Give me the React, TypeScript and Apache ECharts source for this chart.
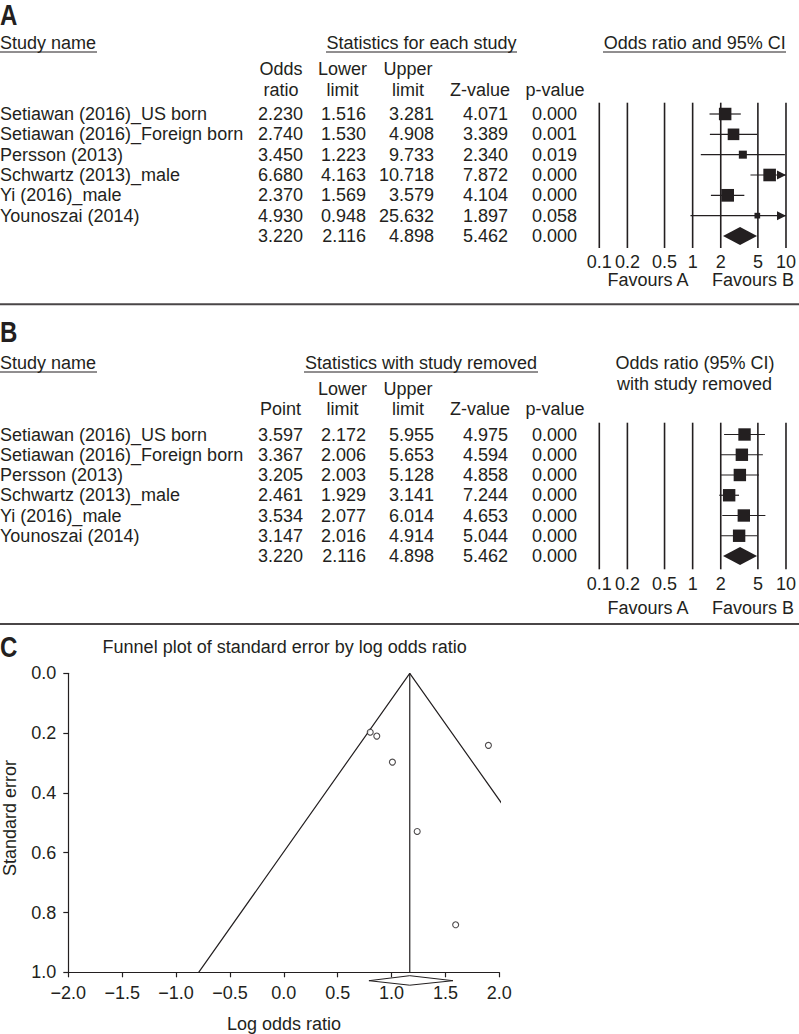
import React, { useEffect, useRef } from "react";
import * as echarts from "echarts";

// ---------- DATA ----------
const studies = [
  "Setiawan (2016)_US born",
  "Setiawan (2016)_Foreign born",
  "Persson (2013)",
  "Schwartz (2013)_male",
  "Yi (2016)_male",
  "Younoszai (2014)",
];

// Panel A: statistics for each study
const oddsA = [2.23, 2.74, 3.45, 6.68, 2.37, 4.93];
const lowerA = [1.516, 1.53, 1.223, 4.163, 1.569, 0.948];
const upperA = [3.281, 4.908, 9.733, 10.718, 3.579, 25.632];
const zA = [4.071, 3.389, 2.34, 7.872, 4.104, 1.897];
const pA = [0.0, 0.001, 0.019, 0.0, 0.0, 0.058];
const weightA = [19.9, 17.2, 8.2, 20.2, 20.6, 4.1];
const summaryA = [3.22, 2.116, 4.898, 5.462, 0.0];

// Panel B: statistics with study removed
const pointB = [3.597, 3.367, 3.205, 2.461, 3.534, 3.147];
const lowerB = [2.172, 2.006, 2.003, 1.929, 2.077, 2.016];
const upperB = [5.955, 5.653, 5.128, 3.141, 6.014, 4.914];
const zB = [4.975, 4.594, 4.858, 7.244, 4.653, 5.044];
const pB = [0.0, 0.0, 0.0, 0.0, 0.0, 0.0];
const summaryB = [3.22, 2.116, 4.898, 5.462, 0.0];

const forestTicks = [0.1, 0.2, 0.5, 1, 2, 5, 10];
const forestTickLabels = ["0.1", "0.2", "0.5", "1", "2", "5", "10"];

// Panel C: funnel plot
const logOR = [0.802, 1.008, 1.238, 1.899, 0.863, 1.595];
const stdErr = [0.197, 0.297, 0.529, 0.241, 0.21, 0.841];
const pooledLogOR = 1.169;
const funnelLimitsAtSE1 = [-0.79, 3.13];
const pooledDiamond = [0.79, 1.57];
const funnelXTicks = [-2, 2, 0.5]; // min, max, interval
const funnelYTicks = [0, 1, 0.2];

// ---------- STYLE / LAYOUT ----------
const INK = "#231f20";
const FONT = "'Liberation Sans', Arial, Helvetica, sans-serif";
const FS = 18;

const A_ROW0 = 114, A_SP = 20.33, A_TOP = 102.7, A_BOT = 248;
const B_ROW0 = 434.5, B_SP = 20.25, B_TOP = 422.7, B_BOT = 569.3;
const F_LEFT = 599.3, F_W = 190;
const COLS = [303, 366, 434, 508, 577]; // right edges of numeric columns
const HCOLS = [281, 342.5, 408, 480, 555]; // header centers

const fmt = (v: number) => v.toFixed(3);

function txt(text: string, x: number, y: number, align = "left", extra: any = {}) {
  const { style: extraStyle, ...rest } = extra;
  return {
    type: "text",
    x,
    y,
    silent: true,
    ...rest,
    style: {
      text,
      fill: INK,
      fontSize: FS,
      fontFamily: FONT,
      align,
      verticalAlign: "middle",
      ...(extraStyle || {}),
    },
  };
}
function hline(x1: number, x2: number, y: number, w = 1, color = INK) {
  return { type: "line", silent: true, shape: { x1, y1: y, x2, y2: y }, style: { stroke: color, lineWidth: w } };
}
function letter(ch: string, y: number) {
  return txt(ch, 0, y, "left", { scaleX: 0.83, style: { fontSize: 29, lineHeight: 28, fontWeight: "bold" } });
}

function tableRows(
  row0: number, sp: number,
  a: number[], b: number[], c: number[], d: number[], e: number[], summary: number[]
) {
  const els: any[] = [];
  studies.forEach((name, i) => {
    const y = row0 + i * sp;
    els.push(txt(name, 0, y));
    [a[i], b[i], c[i], d[i], e[i]].forEach((v, k) => els.push(txt(fmt(v), COLS[k], y, "right")));
  });
  const ys = row0 + 6 * sp;
  summary.forEach((v, k) => els.push(txt(fmt(v), COLS[k], ys, "right")));
  return els;
}

function buildGraphics() {
  const g: any[] = [];
  // Panel A
  g.push(letter("A", 15.5));
  g.push(txt("Study name", 0, 43));
  g.push(hline(0, 97, 52));
  g.push(txt("Statistics for each study", 421.5, 43, "center"));
  g.push(hline(326, 517, 52));
  g.push(txt("Odds ratio and 95% CI", 694.7, 43, "center"));
  g.push(hline(603, 786, 52));
  g.push(txt("Odds", HCOLS[0], 69, "center"));
  g.push(txt("Lower", HCOLS[1], 69, "center"));
  g.push(txt("Upper", HCOLS[2], 69, "center"));
  g.push(txt("ratio", HCOLS[0], 89.5, "center"));
  g.push(txt("limit", HCOLS[1], 89.5, "center"));
  g.push(txt("limit", HCOLS[2], 89.5, "center"));
  g.push(txt("Z-value", HCOLS[3], 89.5, "center"));
  g.push(txt("p-value", HCOLS[4], 89.5, "center"));
  g.push(...tableRows(A_ROW0, A_SP, oddsA, lowerA, upperA, zA, pA, summaryA));
  g.push(txt("Favours A", 648, 280, "center"));
  g.push(txt("Favours B", 753, 280, "center"));
  g.push(hline(0, 799, 304.3, 2, "#4a4647"));

  // Panel B
  g.push(letter("B", 332));
  g.push(txt("Study name", 0, 363));
  g.push(hline(0, 97, 372));
  g.push(txt("Statistics with study removed", 421, 363, "center"));
  g.push(hline(304, 538, 372));
  g.push(txt("Odds ratio (95% CI)", 695, 363, "center"));
  g.push(txt("with study removed", 694.5, 384, "center"));
  g.push(txt("Lower", HCOLS[1], 389, "center"));
  g.push(txt("Upper", HCOLS[2], 389, "center"));
  g.push(txt("Point", 280.5, 409, "center"));
  g.push(txt("limit", HCOLS[1], 409, "center"));
  g.push(txt("limit", HCOLS[2], 409, "center"));
  g.push(txt("Z-value", HCOLS[3], 409, "center"));
  g.push(txt("p-value", HCOLS[4], 409, "center"));
  g.push(...tableRows(B_ROW0, B_SP, pointB, lowerB, upperB, zB, pB, summaryB));
  g.push(txt("Favours A", 648, 608.3, "center"));
  g.push(txt("Favours B", 753, 608.3, "center"));
  g.push(hline(0, 799, 624, 2, "#4a4647"));

  // Panel C
  g.push(letter("C", 647));
  g.push(txt("Funnel plot of standard error by log odds ratio", 284.7, 647, "center"));
  g.push(txt("Log odds ratio", 284, 1024, "center"));
  g.push(txt("Standard error", 9.5, 818, "center", { rotation: Math.PI / 2, style: { lineHeight: 16 } }));
  return g;
}

function forestRender(boxSize: (w: number) => number) {
  return (params: any, api: any) => {
    const or = api.value(0), lo = api.value(1), hi = api.value(2), w = api.value(3), row = api.value(4), kind = api.value(5);
    const y = api.coord([1, row])[1];
    const xLo = api.coord([Math.max(lo, 0.1), row])[0];
    const xHi = api.coord([Math.min(hi, 10), row])[0];
    const xOr = api.coord([or, row])[0];
    if (kind === 1) {
      return {
        type: "polygon",
        shape: { points: [[xLo, y], [xOr, y - 9], [xHi, y], [xOr, y + 9]] },
        style: { fill: INK },
      };
    }
    const children: any[] = [
      { type: "line", shape: { x1: xLo, y1: y, x2: xHi, y2: y }, style: { stroke: INK, lineWidth: 1.2 } },
    ];
    if (hi > 10) {
      children.push({
        type: "polygon",
        shape: { points: [[xHi - 9, y - 4.5], [xHi, y], [xHi - 9, y + 4.5]] },
        style: { fill: INK },
      });
    }
    const s = boxSize(w);
    children.push({ type: "rect", shape: { x: xOr - s / 2, y: y - s / 2, width: s, height: s }, style: { fill: INK } });
    return { type: "group", children };
  };
}

const refLineRender = (params: any, api: any) => {
  const cs = params.coordSys;
  const x = api.coord([api.value(0), 0])[0];
  return { type: "line", shape: { x1: x, y1: cs.y, x2: x, y2: cs.y + cs.height }, style: { stroke: INK, lineWidth: 1.6 } };
};

function buildOption() {
  const forestX = (gridIndex: number, margin: number) => ({
    type: "log",
    logBase: 10,
    gridIndex,
    min: 0.1,
    max: 10,
    axisLine: { show: false },
    axisTick: { show: false },
    splitLine: { show: false },
    axisLabel: {
      customValues: forestTicks,
      formatter: (v: number) => {
        const i = forestTicks.findIndex((t) => Math.abs(Math.log10(t) - Math.log10(v)) < 1e-6);
        return i >= 0 ? forestTickLabels[i] : String(v);
      },
      fontSize: FS,
      fontFamily: FONT,
      color: INK,
      margin,
      showMinLabel: true,
      showMaxLabel: true,
    },
  });
  const forestY = (gridIndex: number, row0: number, sp: number, top: number, bot: number) => ({
    type: "value",
    gridIndex,
    inverse: true,
    min: (top - row0) / sp,
    max: (bot - row0) / sp,
    show: false,
  });

  const dataA = studies.map((_, i) => [oddsA[i], lowerA[i], upperA[i], weightA[i], i, 0]);
  dataA.push([summaryA[0], summaryA[1], summaryA[2], 0, 6, 1]);
  const dataB = studies.map((_, i) => [pointB[i], lowerB[i], upperB[i], 1, i, 0]);
  dataB.push([summaryB[0], summaryB[1], summaryB[2], 0, 6, 1]);

  const axisStyle = {
    axisLine: { show: true, onZero: false, lineStyle: { color: INK, width: 1.2 } },
    axisTick: { show: true, length: 5, lineStyle: { color: INK, width: 1.2 } },
    splitLine: { show: false },
  };

  return {
    animation: false,
    backgroundColor: "#ffffff",
    grid: [
      { left: F_LEFT, width: F_W, top: A_TOP, height: A_BOT - A_TOP },
      { left: F_LEFT, width: F_W, top: B_TOP, height: B_BOT - B_TOP },
      { left: 68.3, width: 431, top: 673.3, height: 299 },
    ],
    xAxis: [
      forestX(0, 5),
      forestX(1, 6),
      {
        type: "value",
        gridIndex: 2,
        position: "bottom",
        min: funnelXTicks[0],
        max: funnelXTicks[1],
        interval: funnelXTicks[2],
        ...axisStyle,
        axisLabel: {
          fontSize: FS,
          fontFamily: FONT,
          color: INK,
          margin: 12,
          formatter: (v: number) => (v < 0 ? "\u2212" + Math.abs(v).toFixed(1) : v.toFixed(1)),
        },
      },
    ],
    yAxis: [
      forestY(0, A_ROW0, A_SP, A_TOP, A_BOT),
      forestY(1, B_ROW0, B_SP, B_TOP, B_BOT),
      {
        type: "value",
        gridIndex: 2,
        position: "left",
        inverse: true,
        min: funnelYTicks[0],
        max: funnelYTicks[1],
        interval: funnelYTicks[2],
        ...axisStyle,
        axisLabel: {
          fontSize: FS,
          fontFamily: FONT,
          color: INK,
          margin: 12,
          formatter: (v: number) => v.toFixed(1),
        },
      },
    ],
    graphic: buildGraphics(),
    series: [
      {
        type: "custom",
        xAxisIndex: 0,
        yAxisIndex: 0,
        renderItem: refLineRender,
        data: forestTicks.map((t) => [t, 0]),
        encode: { x: 0, y: 1 },
        z: 1,
        silent: true,
      },
      {
        type: "custom",
        xAxisIndex: 0,
        yAxisIndex: 0,
        renderItem: forestRender((w) => 2.8 * Math.sqrt(w)),
        data: dataA,
        encode: { x: [0, 1, 2], y: 4 },
        clip: false,
        z: 2,
        silent: true,
      },
      {
        type: "custom",
        xAxisIndex: 1,
        yAxisIndex: 1,
        renderItem: refLineRender,
        data: forestTicks.map((t) => [t, 0]),
        encode: { x: 0, y: 1 },
        z: 1,
        silent: true,
      },
      {
        type: "custom",
        xAxisIndex: 1,
        yAxisIndex: 1,
        renderItem: forestRender(() => 12.4),
        data: dataB,
        encode: { x: [0, 1, 2], y: 4 },
        clip: false,
        z: 2,
        silent: true,
      },
      // Funnel
      {
        type: "line",
        xAxisIndex: 2,
        yAxisIndex: 2,
        data: [
          [funnelLimitsAtSE1[0], 1],
          [pooledLogOR, 0],
          [funnelLimitsAtSE1[1], 1],
        ],
        showSymbol: false,
        symbol: "none",
        clip: true,
        lineStyle: { color: INK, width: 1.2 },
        silent: true,
      },
      {
        type: "line",
        xAxisIndex: 2,
        yAxisIndex: 2,
        data: [
          [pooledLogOR, 0],
          [pooledLogOR, 1],
        ],
        showSymbol: false,
        symbol: "none",
        lineStyle: { color: INK, width: 1.2 },
        silent: true,
      },
      {
        type: "scatter",
        xAxisIndex: 2,
        yAxisIndex: 2,
        data: logOR.map((v, i) => [v, stdErr[i]]),
        symbol: "circle",
        symbolSize: 6,
        itemStyle: { color: "#ffffff", borderColor: INK, borderWidth: 1.1 },
        z: 5,
        silent: true,
      },
      {
        type: "custom",
        xAxisIndex: 2,
        yAxisIndex: 2,
        clip: false,
        data: [[pooledDiamond[0], pooledLogOR, pooledDiamond[1], 1]],
        encode: { x: [0, 1, 2], y: 3 },
        renderItem: (params: any, api: any) => {
          const base = api.coord([0, 1])[1] + 8.4;
          const x0 = api.coord([api.value(0), 1])[0];
          const xc = api.coord([api.value(1), 1])[0];
          const x1 = api.coord([api.value(2), 1])[0];
          return {
            type: "polygon",
            shape: { points: [[x0, base], [xc, base - 5], [x1, base], [xc, base + 4.5]] },
            style: { fill: "#ffffff", stroke: INK, lineWidth: 1 },
          };
        },
        z: 6,
        silent: true,
      },
    ],
  };
}

export default function App() {
  const ref = useRef<HTMLDivElement>(null);
  useEffect(() => {
    if (!ref.current) return;
    const chart = echarts.init(ref.current, null, { renderer: "svg", width: 799, height: 1034 });
    chart.setOption(buildOption() as any);
    return () => chart.dispose();
  }, []);
  return (
    <div
      ref={ref}
      style={{ position: "absolute", left: 0, top: 0, width: 799, height: 1034, background: "#fff" }}
    />
  );
}
